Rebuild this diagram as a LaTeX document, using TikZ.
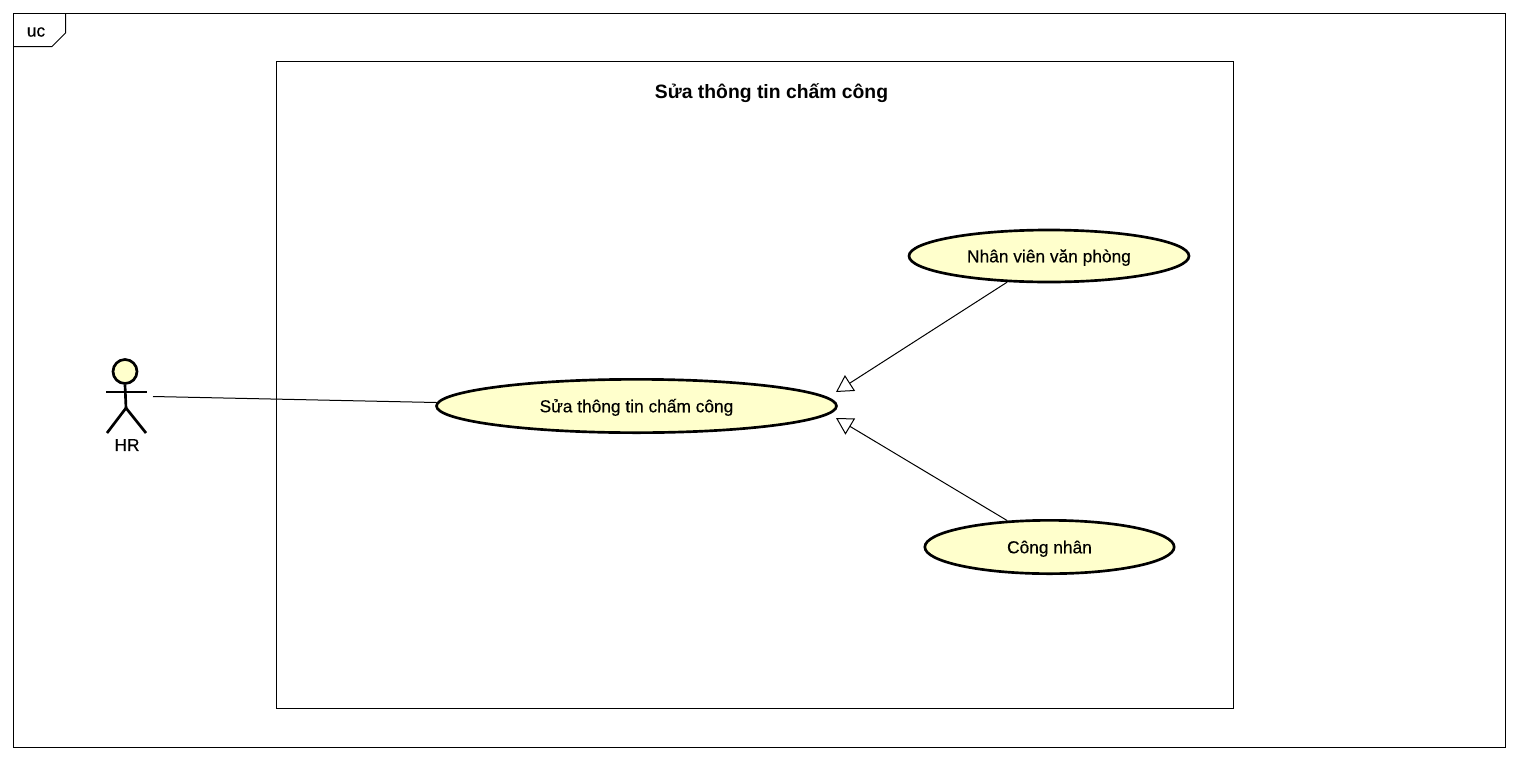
\documentclass[tikz,border=0pt]{standalone}
\usepackage{fontspec}
\setmainfont{Liberation Sans}
\newfontfamily\labelfont[FakeBold=0.35]{Liberation Sans}
\usetikzlibrary{arrows.meta,shapes.geometric}
\definecolor{ucfill}{HTML}{FFFFCC}
\begin{document}
\begin{tikzpicture}[x=0.75pt,y=-0.75pt,
    usecase/.style={draw, ellipse, fill=ucfill, line width=2pt, inner sep=0pt, text height=9.4pt, text depth=0pt, font=\labelfont\fontsize{13}{15}\selectfont},
    label/.style={inner sep=0pt, font=\labelfont\fontsize{13}{15}\selectfont},
    boxline/.style={line width=0.75pt},
    stick/.style={line width=2pt},
    assoc/.style={line width=0.75pt},
    general/.style={line width=0.75pt,-{Triangle[open,length=12.5pt,width=14pt]}}]
    \useasboundingbox (0,0) rectangle (1518,761);
    % frame and tab
    \draw[boxline] (13.5,13.5) rectangle (1505.5,747.5);
    \draw[boxline] (13.5,46.5) -- (52,46.5) -- (65.5,33) -- (65.5,13.5);
    \node[label] (frametag) at (36,32) {uc};
    % system boundary
    \draw[boxline] (276.5,61.5) rectangle (1233.5,708.5);
    \node[inner sep=0pt, font=\fontsize{14.5}{17}\selectfont\bfseries] (systitle) at (771.5,93) {Sửa thông tin chấm công};
    % actor
    \node[draw, circle, fill=ucfill, stick, minimum size=18pt, inner sep=0pt] (hr) at (125,371.5) {};
    \coordinate (hrhip) at (126,408);
    \draw[stick] (hr.south) -- (hrhip);
    \draw[stick] (106,392) -- (147,392);
    \draw[stick] (107,433) -- (hrhip) -- (146,433);
    \node[label] (hrname) at (127,445) {HR};
    \coordinate (hrend) at (153,396.5);
    % use cases
    \node[usecase, minimum width=300pt, minimum height=40pt] (edit) at (636.5,406) {Sửa thông tin chấm công};
    \node[usecase, minimum width=210pt, minimum height=39pt] (office) at (1049,256) {Nhân viên văn phòng};
    \node[usecase, minimum width=187pt, minimum height=40pt] (worker) at (1049.5,547) {Công nhân};
    \coordinate (tipa) at (836,392);
    \coordinate (tipb) at (836,418);
    % links
    \draw[assoc] (hrend) -- (edit.179.5);
    \draw[general] (office.212) -- (tipa);
    \draw[general] (worker.148) -- (tipb);
\end{tikzpicture}
\end{document}
